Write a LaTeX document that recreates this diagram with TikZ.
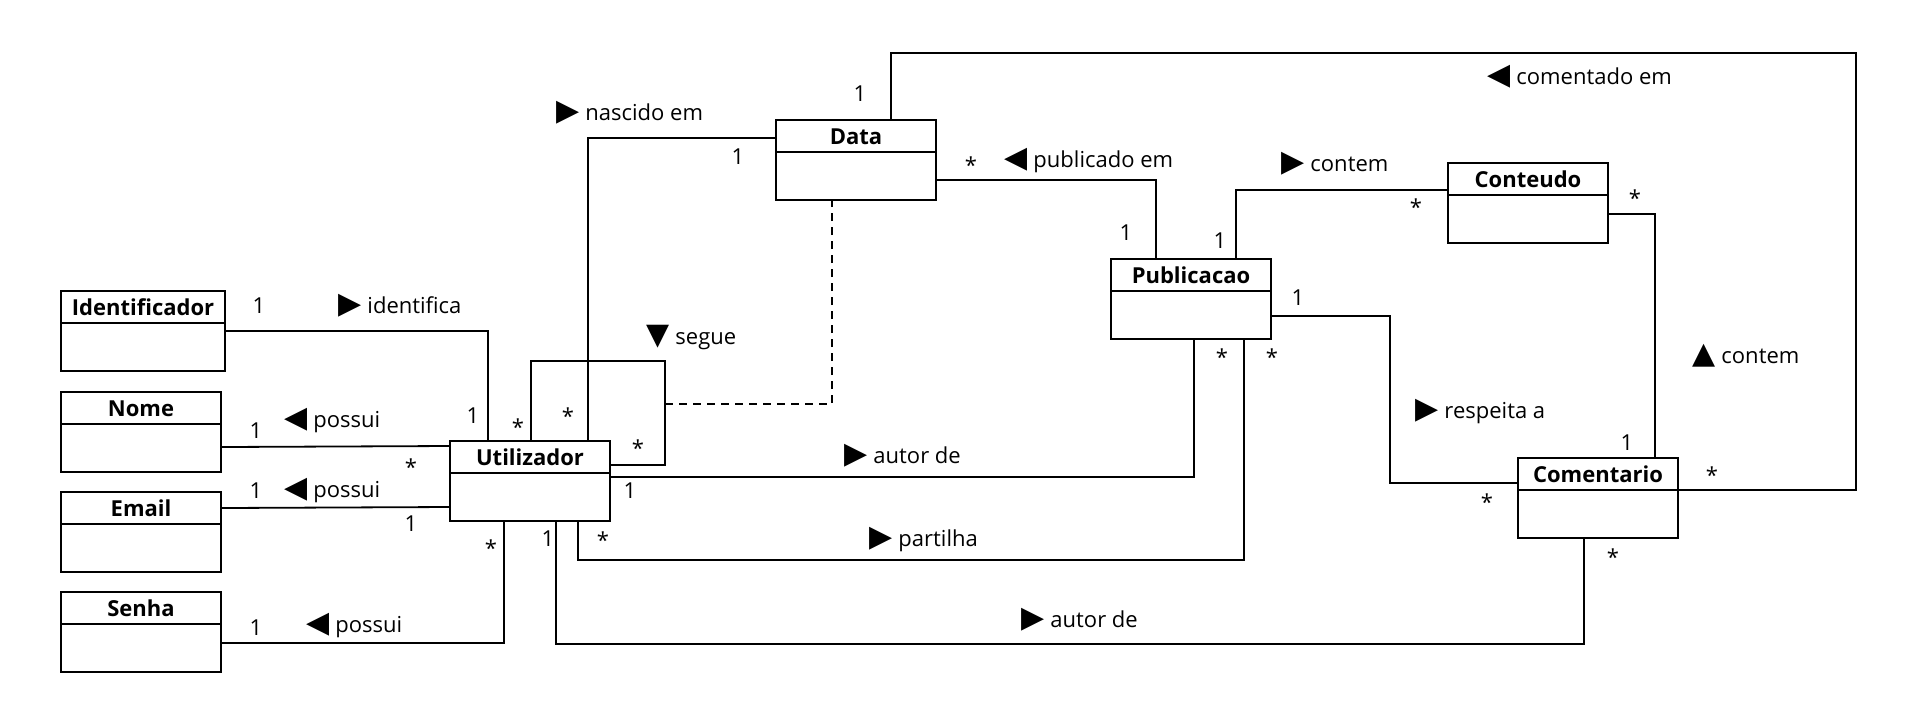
\documentclass[tikz,border=0pt]{standalone}
\usepackage{fontspec}
\setmainfont{Open Sans}
\newfontfamily\symfont{DejaVu Sans}
\usetikzlibrary{
	positioning,
	calc
}

\newcommand{\assoc}[2]{{\symfont\fontsize{15}{15}\selectfont #1}\hspace{3pt}#2}

\tikzset{
	umlclass/.style={
		draw, line width=1pt, anchor=north west,
		minimum width=80pt, inner xsep=4pt, inner ysep=0pt,
		text height=12pt, text depth=28pt,
		font=\fontsize{11}{13}\selectfont\bfseries,
		path picture={
			\draw [line width=1pt]
				([yshift=-16pt]path picture bounding box.north west) --
				([yshift=-16pt]path picture bounding box.north east);
		}
	},
	link/.style={line width=0.9pt},
	mult/.style={anchor=base, inner sep=0pt, font=\fontsize{11}{13}\selectfont},
	role/.style={anchor=base west, inner sep=0pt, font=\fontsize{11}{13}\selectfont}
}

\begin{document}
\begin{tikzpicture}[x=0.5pt,y=-0.5pt]
		\useasboundingbox (0,0) rectangle (1917,725);

		\draw
			node [umlclass,minimum width=82pt] (ident)  at (60,290)   {Identificador}
			node [umlclass]                    (nome)   at (60,391)   {Nome}
			node [umlclass]                    (email)  at (60,491)   {Email}
			node [umlclass]                    (senha)  at (60,591)   {Senha}
			node [umlclass]                    (util)   at (449,440)  {Utilizador}
			node [umlclass]                    (data)   at (775,119)  {Data}
			node [umlclass]                    (pub)    at (1110,258) {Publicacao}
			node [umlclass]                    (cont)   at (1447,162) {Conteudo}
			node [umlclass]                    (coment) at (1517,457) {Comentario}
		;

		\draw [link]
			(ident.east) -| ($(util.north west)+(39,0)$)
			($(nome.east)+(0,15)$) -- ($(util.north west)+(0,6)$)
			($(email.east)+(0,-24)$) -- ($(util.north west)+(0,67)$)
			($(senha.east)+(0,11)$) -| ($(util.south west)+(55,0)$)
			($(util.north west)+(139,0)$) |- ($(data.west)+(0,-22)$)
			($(util.north west)+(82,0)$) -- ++(0,-79) -| ($(util.north east)+(54,25)$) -- ($(util.north east)+(0,25)$)
			($(data.east)+(0,20)$) -| ($(pub.north west)+(46,0)$)
			($(data.north west)+(116,0)$) -- ++(0,-66) -| ($(coment.east)+(177,-8)$) -- ($(coment.east)+(0,-8)$)
			($(pub.north west)+(126,0)$) |- ($(cont.west)+(0,-13)$)
			($(pub.east)+(0,17)$) -| ($(coment.west)+(-127,-15)$) -- ($(coment.west)+(0,-15)$)
			($(cont.east)+(0,11)$) -| ($(coment.north west)+(138,0)$)
			($(util.east)+(0,-4)$) -| ($(pub.south west)+(84,0)$)
			($(util.south west)+(129,0)$) -- ++(0,38) -| ($(pub.south west)+(134,0)$)
			($(util.south west)+(107,0)$) -- ++(0,122) -| ($(coment.south west)+(67,0)$)
		;

		\coordinate (segue) at ($(util.north east)+(54,-36)$);
		\draw [link,dash pattern=on 4pt off 3pt] (segue) -| ($(data.south west)+(57,0)$);

		\draw
			node [role] (identifica) at (338,313)  {\assoc{▶}{identifica}}
			node [role] (possui1)    at (284,427)  {\assoc{◀}{possui}}
			node [role] (possui2)    at (284,497)  {\assoc{◀}{possui}}
			node [role] (possui3)    at (306,632)  {\assoc{◀}{possui}}
			node [role] (nascido)    at (556,120)  {\assoc{▶}{nascido em}}
			node [role] (segue-l)    at (646,344)  {\assoc{▼}{segue}}
			node [role] (publicado)  at (1004,167) {\assoc{◀}{publicado em}}
			node [role] (comentado)  at (1487,84)  {\assoc{◀}{comentado em}}
			node [role] (contem1)    at (1281,171) {\assoc{▶}{contem}}
			node [role] (respeita)   at (1415,418) {\assoc{▶}{respeita a}}
			node [role] (contem2)    at (1692,363) {\assoc{▲}{contem}}
			node [role] (autor1)     at (844,463)  {\assoc{▶}{autor de}}
			node [role] (partilha)   at (869,546)  {\assoc{▶}{partilha}}
			node [role] (autor2)     at (1021,627) {\assoc{▶}{autor de}}
		;

		\draw
			node [mult] (m1)  at (259,313)  {1}
			node [mult] (m2)  at (473,423)  {1}
			node [mult] (m3)  at (256,438)  {1}
			node [mult] (m4)  at (411,475)  {*}
			node [mult] (m5)  at (256,498)  {1}
			node [mult] (m6)  at (411,531)  {1}
			node [mult] (m7)  at (256,635)  {1}
			node [mult] (m8)  at (491,556)  {*}
			node [mult] (m9)  at (518,435)  {*}
			node [mult] (m10) at (568,424)  {*}
			node [mult] (m11) at (638,456)  {*}
			node [mult] (m12) at (630,498)  {1}
			node [mult] (m13) at (548,546)  {1}
			node [mult] (m14) at (603,548)  {*}
			node [mult] (m15) at (738,164)  {1}
			node [mult] (m16) at (860,101)  {1}
			node [mult] (m17) at (971,173)  {*}
			node [mult] (m18) at (1126,240) {1}
			node [mult] (m19) at (1220,248) {1}
			node [mult] (m20) at (1416,215) {*}
			node [mult] (m21) at (1635,206) {*}
			node [mult] (m22) at (1298,305) {1}
			node [mult] (m23) at (1222,365) {*}
			node [mult] (m24) at (1272,365) {*}
			node [mult] (m25) at (1487,510) {*}
			node [mult] (m26) at (1627,450) {1}
			node [mult] (m27) at (1712,483) {*}
			node [mult] (m28) at (1613,565) {*}
		;
	\end{tikzpicture}
\end{document}
